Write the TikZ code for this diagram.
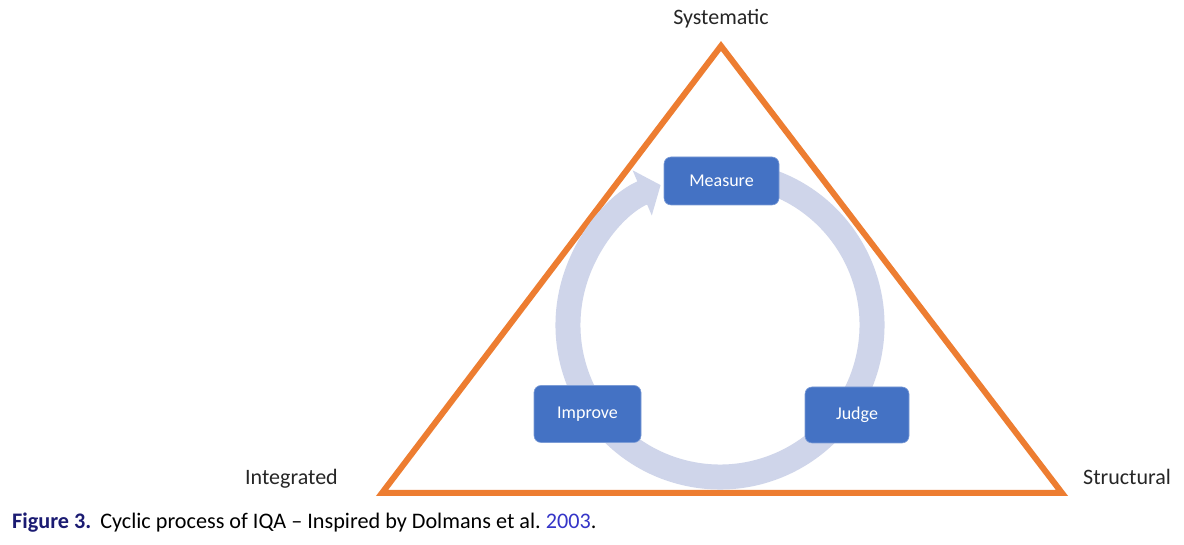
\documentclass[tikz,border=0pt]{standalone}
\usepackage{fontspec}
\setmainfont{Carlito}
\usetikzlibrary{arrows.meta}
\definecolor{tri}{HTML}{ED7D31}
\definecolor{boxblue}{HTML}{4472C4}
\definecolor{ringcol}{HTML}{CFD5EA}
\definecolor{capnavy}{HTML}{1B1B72}
\definecolor{linkblue}{HTML}{3535C8}
\definecolor{labtext}{HTML}{262626}
\begin{document}
\begin{tikzpicture}[x=1pt,y=1pt,
  stage/.style={draw=boxblue!70!white, line width=0.6pt, fill=boxblue, rounded corners=7pt,
    text=white, font=\fontsize{18}{20}\selectfont, inner sep=0pt},
  cornerlabel/.style={text=labtext, font=\fontsize{22}{24}\selectfont, inner sep=0pt},
  ring/.style={draw=ringcol, line width=25pt, -{Triangle[length=20pt,width=48pt]}},
  triline/.style={draw=tri, line width=6pt, miter limit=20}]
\useasboundingbox (0,0) rectangle (1184,545);
\fill[white] (0,0) rectangle (1184,545);
% triangle
\coordinate (TL) at (382,52);
\coordinate (TR) at (1062,52);
\coordinate (TT) at (721,499);
\draw[triline] (TL) -- (TT) -- (TR) -- cycle;
% ring
\coordinate (C) at (720,220);
\draw[ring] ([shift={(75:152)}]C) arc[start angle=75,end angle=-247,radius=152];
% boxes
\node[stage, minimum width=115pt, minimum height=48pt] (measure) at (721.5,364) {Measure};
\node[stage, minimum width=107pt, minimum height=57pt] (improve) at (587.5,131) {Improve};
\node[stage, minimum width=104pt, minimum height=56pt] (judge) at (857,130) {Judge};
% corner labels
\node[cornerlabel, anchor=base] (sys) at (721,520) {Systematic};
\node[cornerlabel, anchor=base west] (int) at (245,60) {Integrated};
\node[cornerlabel, anchor=base west] (str) at (1083,60) {Structural};
% caption
\node[anchor=base west, inner sep=0pt, font=\fontsize{22.2}{24}\selectfont, text=black] (cap) at (12,16)
  {{\color{capnavy}\bfseries Figure 3.}\hspace{9pt}Cyclic process of IQA – Inspired by Dolmans et al.\ {\color{linkblue}2003}.};
\end{tikzpicture}
\end{document}
